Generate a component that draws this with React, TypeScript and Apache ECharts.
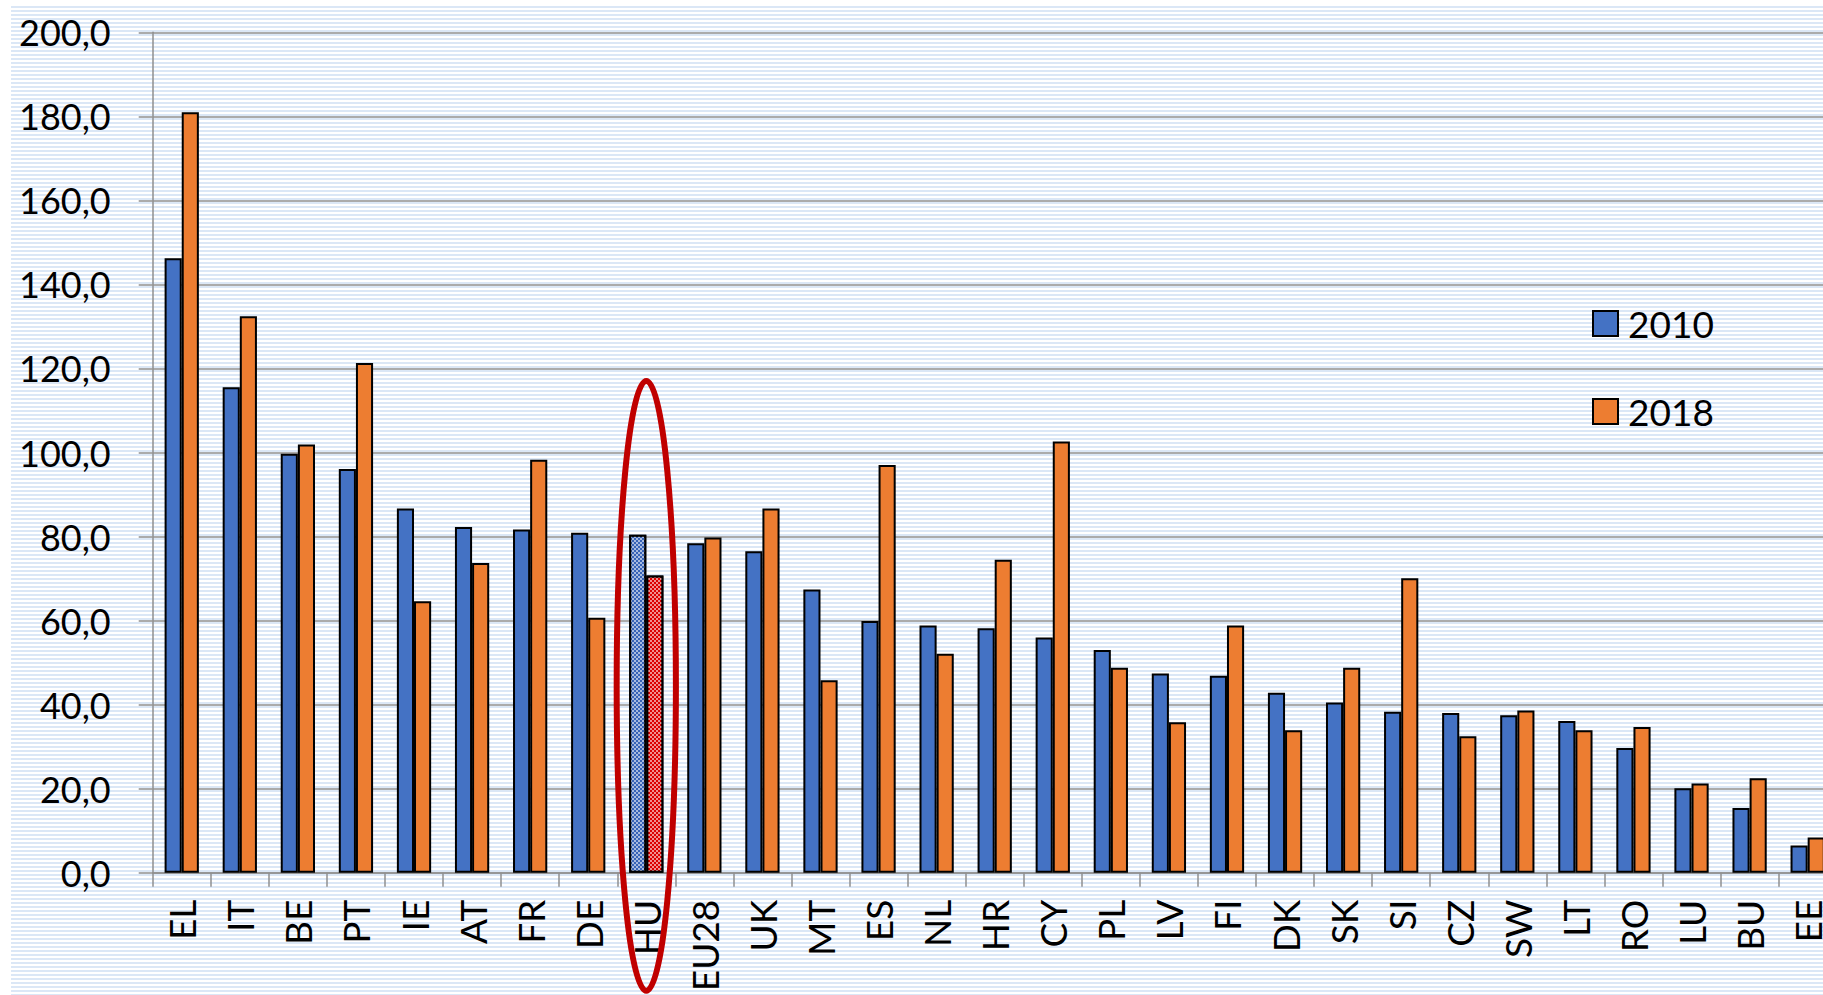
import React, { useEffect, useRef } from "react";
import * as echarts from "echarts";

const categories = ["EL","IT","BE","PT","IE","AT","FR","DE","HU","EU28","UK","MT","ES","NL","HR","CY","PL","LV","FI","DK","SK","SI","CZ","SW","LT","RO","LU","BU","EE"];
const values2010 = [146.2,115.5,99.7,96.1,86.7,82.3,81.7,80.9,80.4,78.4,76.5,67.4,59.9,58.8,58.2,56.0,53.0,47.4,46.9,42.8,40.5,38.3,38.0,37.5,36.1,29.7,20.1,15.4,6.5];
const values2018 = [181.0,132.4,101.9,121.3,64.6,73.7,98.3,60.7,70.7,79.8,86.7,45.8,97.0,52.1,74.5,102.6,48.8,35.8,58.8,33.9,48.8,70.1,32.5,38.6,33.9,34.7,21.2,22.5,8.4];
const seriesNames = ["2010", "2018"];
const highlighted = "HU";
const yTicks = { min: 0, max: 200, interval: 20 };

const FONT = "Lato, 'Open Sans', sans-serif";

export default function App() {
  const ref = useRef<HTMLDivElement>(null);
  useEffect(() => {
    if (!ref.current) return;
    const chart = echarts.init(ref.current, null, { renderer: "svg" });
    const checker = (c: string) => ({
      symbol: "rect",
      symbolSize: 0.75,
      color: "#ffffff",
      backgroundColor: c,
      dashArrayX: [[2, 2], [0, 2, 2, 0]],
      dashArrayY: [2, 0],
      rotation: 0,
    });
    const mk = (vals: number[], hiColor: string) =>
      vals.map((v, i) =>
        categories[i] === highlighted
          ? { value: v, itemStyle: { color: hiColor, decal: checker(hiColor) } }
          : v
      );
    chart.setOption({
      animation: false,
      backgroundColor: "transparent",
      textStyle: { fontFamily: FONT },
      grid: { left: 152.7, right: 23.3, top: 32.3, bottom: 122.3, containLabel: false },
      legend: {
        orient: "vertical",
        left: 1592,
        top: 305,
        padding: 0,
        itemWidth: 25,
        itemHeight: 25,
        itemGap: 51,
        icon: "rect",
        data: seriesNames,
        textStyle: { fontSize: 37, color: "#000", fontFamily: FONT, padding: [0, 0, 0, 5] },
      },
      xAxis: {
        type: "category",
        data: categories,
        axisLine: { lineStyle: { color: "#8f8f8f", width: 1.5 } },
        axisTick: { show: true, length: 14, lineStyle: { color: "#8f8f8f", width: 1.5 } },
        axisLabel: { rotate: 90, fontSize: 37, color: "#000", margin: 27, fontFamily: FONT, interval: 0 },
      },
      yAxis: {
        type: "value",
        min: yTicks.min,
        max: yTicks.max,
        interval: yTicks.interval,
        axisLine: { show: true, lineStyle: { color: "#8f8f8f", width: 1.5 } },
        axisTick: { show: true, length: 14, lineStyle: { color: "#8f8f8f", width: 1.5 } },
        splitLine: { lineStyle: { color: "#8f8f8f", width: 1.5 } },
        axisLabel: {
          fontSize: 36,
          color: "#000",
          margin: 42,
          fontFamily: FONT,
          formatter: (v: number) => v.toFixed(1).replace(".", ","),
        },
      },
      series: [
        {
          name: seriesNames[0],
          type: "bar",
          data: mk(values2010, "#3763B6"),
          barGap: "0%",
          barCategoryGap: "41%",
          itemStyle: { color: "#4472C4", borderColor: "#000", borderWidth: 2 },
        },
        {
          name: seriesNames[1],
          type: "bar",
          data: mk(values2018, "#DC0000"),
          barGap: "0%",
          barCategoryGap: "41%",
          itemStyle: { color: "#ED7D31", borderColor: "#000", borderWidth: 2 },
        },
      ],
    });
    // annotation ellipse around the highlighted category
    const cx = chart.convertToPixel({ xAxisIndex: 0 }, highlighted) as number;
    const x1 = chart.convertToPixel({ xAxisIndex: 0 }, categories[0]) as number;
    const x2 = chart.convertToPixel({ xAxisIndex: 0 }, categories[1]) as number;
    const bandW = x2 - x1;
    const topY = chart.convertToPixel({ yAxisIndex: 0 }, 117) as number;
    const baseY = chart.convertToPixel({ yAxisIndex: 0 }, 0) as number;
    const bottomY = baseY + 118;
    chart.setOption({
      graphic: [
        {
          type: "ellipse",
          z: 100,
          shape: { cx, cy: (topY + bottomY) / 2, rx: bandW * 0.51, ry: (bottomY - topY) / 2 },
          style: { fill: "none", stroke: "#C00000", lineWidth: 6 },
        },
      ],
    });
    return () => chart.dispose();
  }, []);

  return (
    <div style={{ position: "fixed", left: 0, top: 0, width: 1823, height: 995, overflow: "hidden", background: "#fff" }}>
      <div
        style={{
          position: "absolute",
          left: 11,
          top: 6,
          right: 0,
          bottom: 0,
          background: "repeating-linear-gradient(to bottom, #dbe7f6 0px, #dbe7f6 2px, #ffffff 2px, #ffffff 4px)",
        }}
      />
      <div ref={ref} style={{ position: "absolute", left: 0, top: 0, width: 1860, height: 995 }} />
    </div>
  );
}
